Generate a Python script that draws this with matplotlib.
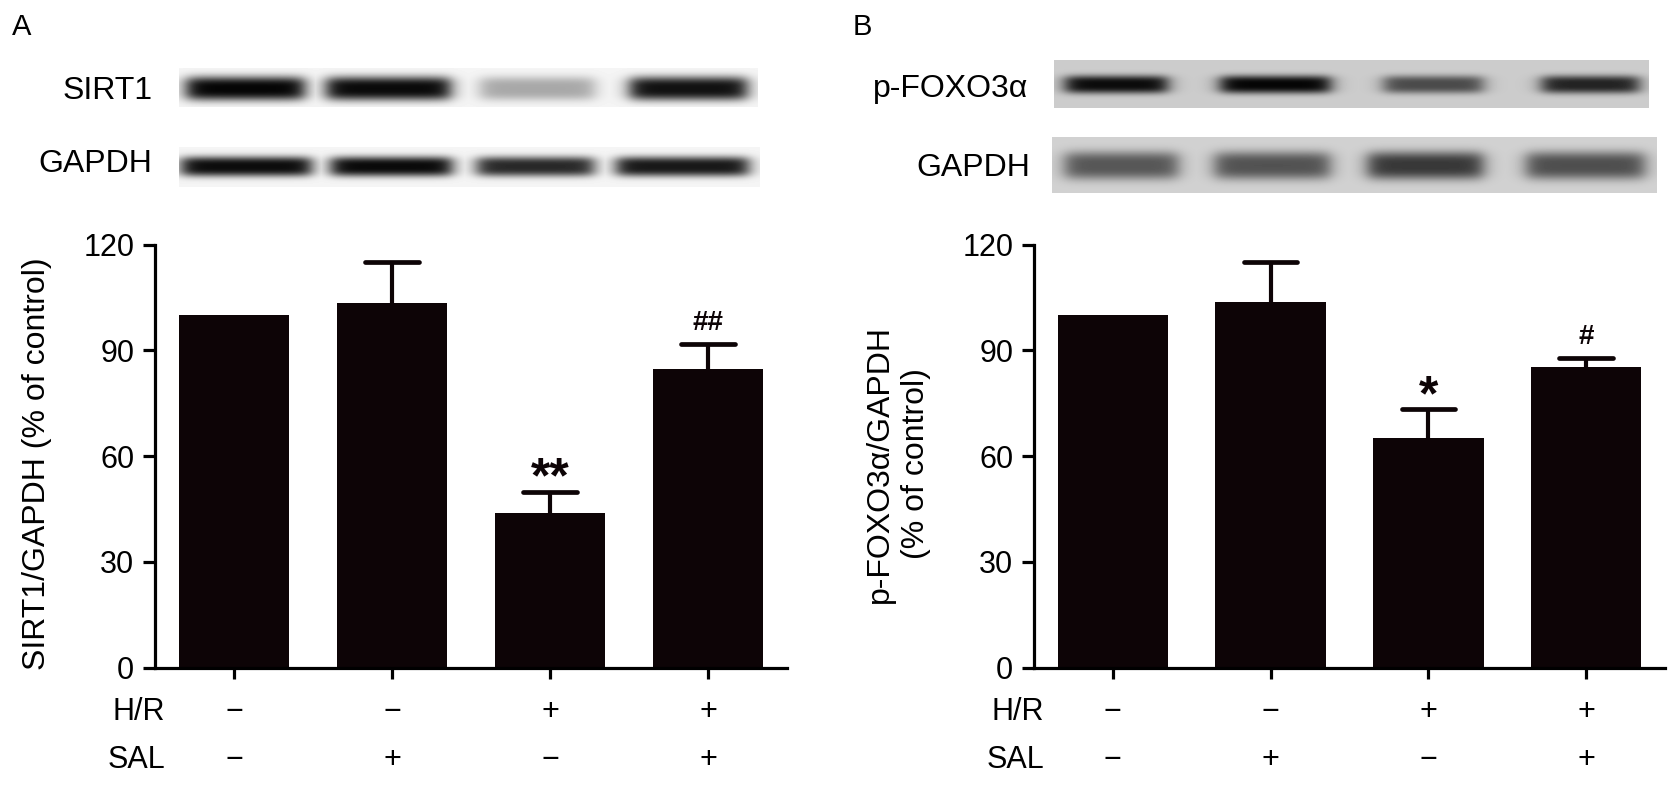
import numpy as np
import matplotlib
matplotlib.use("Agg")
import matplotlib.pyplot as plt
from matplotlib.transforms import blended_transform_factory

plt.rcParams['font.family'] = ['Liberation Sans', 'DejaVu Sans']

# ---------------- data ----------------
groups = ["Control", "SAL", "H/R", "H/R+SAL"]
hr_signs = ["−", "−", "+", "+"]
sal_signs = ["−", "+", "−", "+"]

sirt1_mean = [100.0, 103.4, 43.8, 84.6]
sirt1_sem = [0.0, 11.5, 6.0, 7.1]
sirt1_marks = ["", "", "**", "##"]

foxo_mean = [100.0, 103.8, 65.0, 85.3]
foxo_sem = [0.0, 11.3, 8.2, 2.5]
foxo_marks = ["", "", "*", "#"]

yticks = [0, 30, 60, 90, 120]

# blot band intensities (relative darkness of each lane)
sirt1_band = [1.00, 0.98, 0.32, 0.95]
gapdh_a_band = [0.97, 0.98, 0.85, 0.92]
foxo_band = [0.97, 1.00, 0.65, 0.85]
gapdh_b_band = [0.60, 0.62, 0.75, 0.64]

# ---------------- layout helpers ----------------
W, H = 1680, 785
fig = plt.figure(figsize=(W / 100, H / 100), dpi=100)
BAR = '#0d0406'


def fx(x):
    return x / W


def fy(y):
    return 1 - y / H


def add_axes_px(x0, y0, x1, y1):
    return fig.add_axes([fx(x0), fy(y1), fx(x1 - x0), (y1 - y0) / H])


def blot(x0, y0, x1, y1, centers, widths, intens, bg, band_yc, band_h, soft=5.0):
    ax = add_axes_px(x0, y0, x1, y1)
    nx, ny = int(x1 - x0), int(y1 - y0)
    xs = np.arange(nx) + x0
    ys = np.arange(ny) + y0
    X, Y = np.meshgrid(xs, ys)
    dark = np.zeros_like(X, dtype=float)
    for c, w, k in zip(centers, widths, intens):
        hx = 1 / (1 + np.exp(-(X - (c - w / 2)) / soft)) * 1 / (1 + np.exp((X - (c + w / 2)) / soft))
        vy = np.exp(-np.abs((Y - band_yc) / band_h) ** 3)
        dark = np.maximum(dark, k * hx * vy)
    img = bg * (1 - dark) + 0.02 * dark
    ax.imshow(img, cmap='gray', vmin=0, vmax=1, aspect='auto', interpolation='bilinear')
    ax.set_axis_off()
    return ax


def bar_panel(x0, x1, means, sems, marks, ylabel_lines, ylabel_x):
    y0, y1 = 244.5, 667.5
    ax = add_axes_px(x0, y0, x1, y1)
    xs = np.arange(len(means))
    ax.bar(xs, means, width=0.70, color=BAR, edgecolor=BAR, linewidth=0, zorder=2)
    for i, (m, s) in enumerate(zip(means, sems)):
        if s > 0:
            ax.vlines(i, m - 1, m + s, colors=BAR, linewidth=3.0, zorder=3)
            ax.hlines(m + s, i - 0.17, i + 0.17, colors=BAR, linewidth=3.4, zorder=3,
                      capstyle='round')
    for i, (m, s, mk) in enumerate(zip(means, sems, marks)):
        if mk:
            star = '*' in mk
            ax.annotate(mk, xy=(i, m + s), xytext=(0, -7.5 if star else 6),
                        textcoords='offset points', ha='center', va='bottom',
                        fontsize=36 if star else 20, fontweight='bold', color=BAR)
    ax.set_xlim(-0.5, 3.5)
    ax.set_ylim(0, 120)
    ax.set_yticks(yticks)
    ax.set_xticks(xs)
    ax.set_xticklabels([])
    for sp in ['top', 'right']:
        ax.spines[sp].set_visible(False)
    for sp in ['left', 'bottom']:
        ax.spines[sp].set_linewidth(2.3)
    ax.tick_params(axis='y', direction='out', length=9, width=2.3, labelsize=22, pad=6)
    ax.tick_params(axis='x', direction='out', length=8, width=2.3)
    tr = blended_transform_factory(ax.transData, fig.transFigure)
    for i in range(4):
        ax.text(i, fy(712), hr_signs[i], transform=tr, ha='center', va='center', fontsize=22)
        ax.text(i, fy(760), sal_signs[i], transform=tr, ha='center', va='center', fontsize=22)
    fig.text(fx(x0 + 10), fy(712), "H/R", ha='right', va='center', fontsize=22)
    fig.text(fx(x0 + 10), fy(760), "SAL", ha='right', va='center', fontsize=22)
    for j, line in enumerate(ylabel_lines):
        fig.text(fx(ylabel_x + j * 36), fy(464), line, rotation=90, ha='center', va='center',
                 fontsize=23)
    return ax


# ---------------- Panel A ----------------
fig.text(fx(22), fy(27), "A", ha='center', va='center', fontsize=21)
blot(179, 68, 758, 107, [245, 388, 537, 688], [118, 124, 114, 117], sirt1_band, 0.96, 88, 12)
blot(179, 147, 760, 187, [246, 391, 535, 682], [130, 121, 117, 132], gapdh_a_band, 0.96, 166, 10)
fig.text(fx(153), fy(91), "SIRT1", ha='right', va='center', fontsize=23)
fig.text(fx(152), fy(164), "GAPDH", ha='right', va='center', fontsize=23)
bar_panel(155, 787, sirt1_mean, sirt1_sem, sirt1_marks, ["SIRT1/GAPDH (% of control)"], 37)

# ---------------- Panel B ----------------
fig.text(fx(862), fy(27), "B", ha='center', va='center', fontsize=21)
blot(1054, 60, 1649, 108, [1116, 1275, 1433, 1590], [102, 110, 99, 97], foxo_band, 0.80, 84, 9)
blot(1052, 137, 1657, 193, [1121, 1272, 1425, 1585], [113, 115, 115, 118], gapdh_b_band, 0.82, 165, 14)
fig.text(fx(1028), fy(89), "p-FOXO3α", ha='right', va='center', fontsize=23)
fig.text(fx(1030), fy(168), "GAPDH", ha='right', va='center', fontsize=23)
bar_panel(1034, 1665, foxo_mean, foxo_sem, foxo_marks, ["p-FOXO3α/GAPDH", "(% of control)"], 880)

fig.savefig("out.png", dpi=100, facecolor='white')
